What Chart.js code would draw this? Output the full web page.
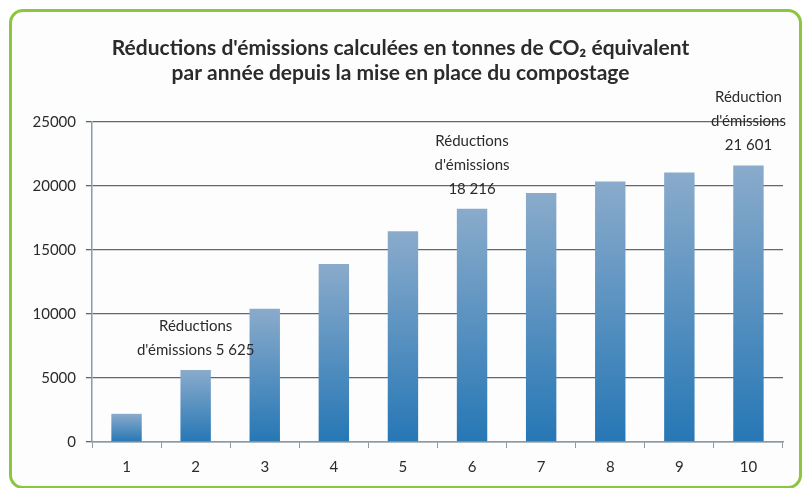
<!DOCTYPE html>
<html>
<head>
<meta charset="utf-8">
<script src="https://cdn.jsdelivr.net/npm/chart.js@4"></script>
<style>
  body { margin: 0; background: #fff; }
  .frame {
    position: absolute; left: 9px; top: 9px; width: 787px; height: 474px;
    border: 3px solid #8cc63f; border-radius: 14px; background: #fdfdfd;
  }
  canvas { position: absolute; left: 0; top: 0; }
</style>
</head>
<body>
<div class="frame"></div>
<canvas id="chart" width="809" height="488"></canvas>
<script>
const years = ["1", "2", "3", "4", "5", "6", "7", "8", "9", "10"];
const reductions = [2200, 5625, 10400, 13900, 16450, 18216, 19450, 20350, 21050, 21601];
const yTicks = [0, 5000, 10000, 15000, 20000, 25000];
const titleLines = [
  "Réductions d'émissions calculées en tonnes de CO₂ équivalent",
  "par année depuis la mise en place du compostage",
];
const callouts = [
  { index: 1, lines: ["Réductions", "d'émissions 5 625"] },
  { index: 5, lines: ["Réductions", "d'émissions", "18 216"] },
  { index: 9, lines: ["Réduction", "d'émissions", "21 601"] },
];

const FONT = "Lato, 'Open Sans', sans-serif";

function barGradient(context) {
  const chart = context.chart;
  const y = chart.scales.y;
  if (!chart.chartArea || !y) return "#3b84bd";
  const top = y.getPixelForValue(context.raw);
  const bottom = y.getPixelForValue(0);
  const g = chart.ctx.createLinearGradient(0, top, 0, bottom);
  g.addColorStop(0, "#8aabcb");
  g.addColorStop(1, "#2677b5");
  return g;
}

const calloutPlugin = {
  id: "callouts",
  afterDatasetsDraw(chart) {
    const { ctx, scales } = chart;
    ctx.save();
    ctx.font = "15px " + FONT;
    ctx.fillStyle = "#2b2b2b";
    ctx.textAlign = "center";
    ctx.textBaseline = "middle";
    callouts.forEach((c) => {
      const x = scales.x.getPixelForValue(c.index);
      const top = scales.y.getPixelForValue(reductions[c.index]);
      const n = c.lines.length;
      c.lines.forEach((line, i) => {
        ctx.fillText(line, x, top - 20 - (n - 1 - i) * 24);
      });
    });
    ctx.restore();
  },
};

new Chart(document.getElementById("chart"), {
  type: "bar",
  data: {
    labels: years,
    datasets: [
      {
        data: reductions,
        backgroundColor: barGradient,
        barPercentage: 0.44,
        categoryPercentage: 1,
      },
    ],
  },
  options: {
    responsive: false,
    animation: false,
    layout: { padding: { top: 35.5, right: 26, left: 18, bottom: 2 } },
    plugins: {
      legend: { display: false },
      tooltip: { enabled: false },
      title: {
        display: true,
        text: titleLines,
        color: "#2b2b2b",
        font: { family: FONT, size: 21, weight: "bold", lineHeight: 1.2 },
        padding: { top: 0, bottom: 36 },
      },
    },
    scales: {
      x: {
        grid: {
          offset: true,
          drawOnChartArea: false,
          tickLength: 6,
          color: "#8a9aa6",
        },
        border: { color: "#8a9aa6", width: 1.5 },
        ticks: { color: "#2b2b2b", font: { family: FONT, size: 15 }, padding: 10 },
      },
      y: {
        min: 0,
        max: 25000,
        afterFit: (scale) => { scale.width = 74; },
        afterBuildTicks: (scale) => {
          scale.ticks = yTicks.map((v) => ({ value: v }));
        },
        grid: { color: "#566b79", lineWidth: 1.3, tickLength: 6 },
        border: { color: "#8a9aa6", width: 1.5 },
        ticks: {
          color: "#2b2b2b",
          font: { family: FONT, size: 15 },
          padding: 10,
          callback: (value) => String(value),
        },
      },
    },
  },
  plugins: [calloutPlugin],
});
</script>
</body>
</html>
